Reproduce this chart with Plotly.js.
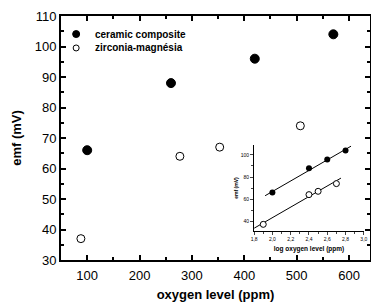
<!DOCTYPE html>
<html><head><meta charset="utf-8">
<script src="https://cdn.plot.ly/plotly-3.0.1.min.js"></script>
<style>html,body{margin:0;padding:0;background:#fff}#c{width:371px;height:304px}</style>
</head><body><div id="c"></div>
<script>
// main chart data
const ceramicX = [100, 260, 420, 570];
const ceramicY = [66, 88, 96, 104];
const zirconiaX = [88, 277, 353, 507];
const zirconiaY = [37, 64, 67, 74];
// inset data (log oxygen level)
const insetCeramicX = [2.0, 2.4, 2.6, 2.8];
const insetCeramicY = [66, 88, 96, 104];
const insetZirconiaX = [1.9, 2.4, 2.5, 2.7];
const insetZirconiaY = [37, 64, 67, 74];
// fitted lines as drawn in the inset (endpoints)
const fitCeramicX = [1.92, 2.86];
const fitCeramicY = [63, 108];
const fitZirconiaX = [1.8, 2.75];
const fitZirconiaY = [33.5, 79];
const names = ['ceramic composite', 'zirconia-magnésia'];

const F = 'Liberation Sans, Arial, sans-serif';
const traces = [
  {x: ceramicX, y: ceramicY, name: names[0], mode: 'markers', type: 'scatter', showlegend: false,
   marker: {symbol: 'circle', size: 9, color: '#000', line: {color: '#000', width: 1}}},
  {x: zirconiaX, y: zirconiaY, name: names[1], mode: 'markers', type: 'scatter', showlegend: false,
   marker: {symbol: 'circle-open', size: 8, color: '#000', line: {color: '#000', width: 1}}},
  {x: fitCeramicX, y: fitCeramicY, xaxis: 'x2', yaxis: 'y2', mode: 'lines', showlegend: false,
   line: {color: '#000', width: 1}},
  {x: fitZirconiaX, y: fitZirconiaY, xaxis: 'x2', yaxis: 'y2', mode: 'lines', showlegend: false,
   line: {color: '#000', width: 1}},
  {x: insetCeramicX, y: insetCeramicY, xaxis: 'x2', yaxis: 'y2', mode: 'markers', showlegend: false,
   marker: {symbol: 'circle', size: 6, color: '#000'}},
  {x: insetZirconiaX, y: insetZirconiaY, xaxis: 'x2', yaxis: 'y2', mode: 'markers', showlegend: false,
   marker: {symbol: 'circle', size: 6, color: '#fff', line: {color: '#000', width: 1}}}
];

// legend drawn as shapes + annotations (paper coords)
const legX = 0.049, legTxtX = 0.103, legY = [0.926, 0.869];
const legendShapes = [
  {type: 'circle', xref: 'paper', yref: 'paper', xsizemode: 'pixel', ysizemode: 'pixel',
   xanchor: legX, yanchor: legY[0], x0: -3.5, x1: 3.5, y0: -3.5, y1: 3.5,
   fillcolor: '#000', line: {color: '#000', width: 1}},
  {type: 'circle', xref: 'paper', yref: 'paper', xsizemode: 'pixel', ysizemode: 'pixel',
   xanchor: legX, yanchor: legY[1], x0: -3, x1: 3, y0: -3, y1: 3,
   fillcolor: 'rgba(0,0,0,0)', line: {color: '#000', width: 1}}
];
const legendAnn = names.map((n, i) => ({
  text: n, xref: 'paper', yref: 'paper', x: legTxtX, y: legY[i], xanchor: 'left', yanchor: 'middle',
  showarrow: false, font: {family: F, size: 10, weight: 'bold', color: '#000'}
}));

const layout = {
  width: 371, height: 304,
  margin: {l: 61, r: 1, t: 16, b: 44},
  paper_bgcolor: '#fff', plot_bgcolor: '#fff',
  separators: ',.',
  font: {family: F, color: '#000', size: 13},
  showlegend: false,
  shapes: legendShapes,
  annotations: legendAnn,
  xaxis: {range: [50, 640], domain: [0, 1], showgrid: false, zeroline: false,
          showline: true, linewidth: 2, linecolor: '#000', mirror: 'ticks',
          ticks: 'inside', ticklen: 5, tickwidth: 2, tickcolor: '#000',
          tickvals: [100, 200, 300, 400, 500, 600],
          minor: {dtick: 50, tick0: 0, ticks: 'inside', ticklen: 3, tickwidth: 2, tickcolor: '#000'},
          tickfont: {size: 13, family: F}, ticklabelstandoff: 2,
          title: {text: 'oxygen level (ppm)', font: {size: 13, family: F, weight: 'bold'}, standoff: 8}},
  yaxis: {range: [30, 110], domain: [0, 1], showgrid: false, zeroline: false,
          showline: true, linewidth: 2, linecolor: '#000', mirror: 'ticks',
          ticks: 'inside', ticklen: 5, tickwidth: 2, tickcolor: '#000',
          dtick: 10, tick0: 0,
          minor: {dtick: 5, tick0: 0, ticks: 'inside', ticklen: 3, tickwidth: 2, tickcolor: '#000'},
          tickfont: {size: 13, family: F},
          title: {text: 'emf (mV)', font: {size: 13, family: F, weight: 'bold'}, standoff: 10}},
  xaxis2: {anchor: 'y2', domain: [0.625, 0.98], range: [1.8, 3.0], showgrid: false, zeroline: false,
           showline: true, linewidth: 1, linecolor: '#000', ticks: 'outside', ticklen: 3,
           tickwidth: 1, dtick: 0.2, tick0: 0, tickformat: '.1f',
           minor: {dtick: 0.1, ticks: 'outside', ticklen: 2, tickwidth: 1},
           tickfont: {size: 5, family: F}, ticklabelstandoff: 0,
           title: {text: 'log oxygen level (ppm)', font: {size: 6.5, family: F, weight: 'bold'}, standoff: 5}},
  yaxis2: {anchor: 'x2', domain: [0.119, 0.471], range: [31, 109], showgrid: false, zeroline: false,
           showline: true, linewidth: 1, linecolor: '#000', ticks: 'outside', ticklen: 3,
           tickwidth: 1, tickvals: [40, 60, 80, 100],
           minor: {dtick: 10, tick0: 0, ticks: 'outside', ticklen: 2, tickwidth: 1},
           tickfont: {size: 5, family: F}, ticklabelstandoff: 0,
           title: {text: 'emf (mV)', font: {size: 5, family: F, weight: 'bold'}, standoff: 2}}
};
Plotly.newPlot('c', traces, layout, {displayModeBar: false, staticPlot: true});
</script></body></html>
